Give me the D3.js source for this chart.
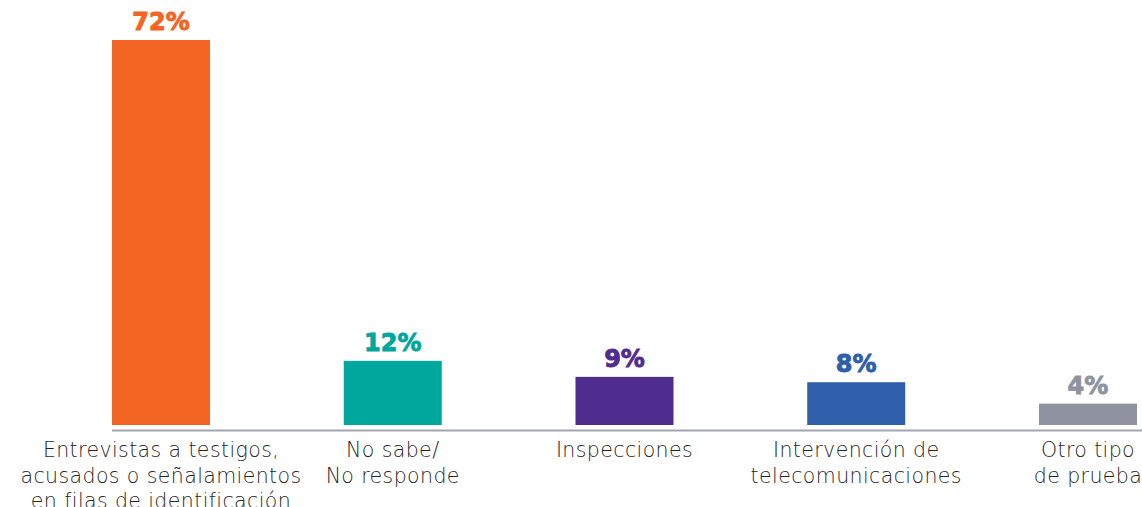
<!DOCTYPE html>
<html>
<head>
<meta charset="utf-8">
<script src="https://cdn.jsdelivr.net/npm/d3@7"></script>
<style>
  body { margin: 0; background: #fff; }
  svg { display: block; }
</style>
</head>
<body>
<div id="container"></div>
<script>
let w = 1142;
let h = 507;

// DATA
let categories = [
  "Entrevistas a testigos,|acusados o señalamientos|en filas de identificación",
  "No sabe/|No responde",
  "Inspecciones",
  "Intervención de|telecomunicaciones",
  "Otro tipo|de prueba"
];
let values = [72, 12, 9, 8, 4];
let valueLabels = ["72%", "12%", "9%", "8%", "4%"];
let colors = ["#f26522", "#00a79d", "#4f2d8f", "#2f5eab", "#8e939f"];

let viz = d3.select("#container").append("svg")
    .attr("width", w)
    .attr("height", h)
;

// SCALES
let xScale = d3.scaleBand()
    .domain(categories)
    .range([112, 1137])
    .paddingInner(0.5771)
    .paddingOuter(0);

let yScale = d3.scaleLinear()
    .domain([0, 72])
    .range([425, 40]);

// BARS
viz.selectAll(".bar").data(values).enter()
  .append("rect")
    .attr("class", "bar")
    .attr("x", (d, i) => xScale(categories[i]))
    .attr("y", d => yScale(d))
    .attr("width", xScale.bandwidth())
    .attr("height", d => yScale(0) - yScale(d))
    .attr("fill", (d, i) => colors[i])
;

// VALUE LABELS (stroke to make them a bit heavier)
viz.selectAll(".val").data(values).enter()
  .append("text")
    .attr("class", "val")
    .attr("x", (d, i) => xScale(categories[i]) + xScale.bandwidth() / 2)
    .attr("y", d => yScale(d) - 10)
    .attr("text-anchor", "middle")
    .attr("fill", (d, i) => colors[i])
    .attr("stroke", (d, i) => colors[i])
    .attr("stroke-width", 0.9)
    .style("font-family", "'DejaVu Sans', sans-serif")
    .style("font-weight", "700")
    .style("font-size", "24px")
    .text((d, i) => valueLabels[i])
;

// baseline
viz.append("line")
    .attr("x1", 112)
    .attr("x2", w)
    .attr("y1", yScale(0) + 5.5)
    .attr("y2", yScale(0) + 5.5)
    .attr("stroke", "#a3a6b1")
    .attr("stroke-width", 2)
;

// CATEGORY AXIS
let xAxis = d3.axisBottom(xScale).tickSize(0).tickFormat("");
let axisG = viz.append("g")
    .attr("transform", "translate(0," + (yScale(0) + 6) + ")")
    .call(xAxis);
axisG.select(".domain").remove();

axisG.selectAll(".tick").append("text")
    .attr("class", "cat")
    .attr("text-anchor", "middle")
    .attr("fill", "#262626")
    .style("font-family", "'DejaVu Sans', sans-serif")
    .style("font-weight", "200")
    .style("font-size", "20.5px")
    .style("letter-spacing", "0.4px")
    .each(function(d) {
      let lines = d.split("|");
      let t = d3.select(this);
      lines.forEach(function(l, j) {
        t.append("tspan")
          .attr("x", 0)
          .attr("y", 26 + j * 25.5)
          .text(l);
      });
    })
;
</script>
</body>
</html>
